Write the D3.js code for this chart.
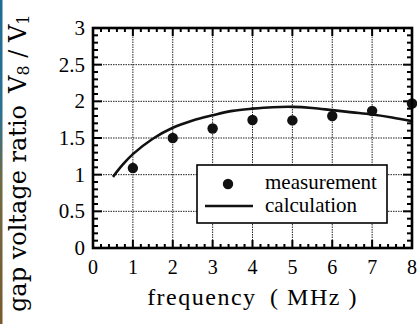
<!DOCTYPE html>
<html>
<head>
<meta charset="utf-8">
<script src="https://cdn.jsdelivr.net/npm/d3@7"></script>
<style>
  html, body { margin: 0; padding: 0; background: #fff; }
  svg { display: block; }
  .serif { font-family: "Liberation Serif", "Times New Roman", Times, Tinos, "Nimbus Roman", FreeSerif, "DejaVu Serif", serif; }
  .wide { font-family: "DejaVu Serif", "Liberation Serif", "Nimbus Roman", FreeSerif, serif; }
</style>
</head>
<body>
<div id="chart"></div>
<script>
// data
const measFreq = [1, 2, 3, 4, 5, 6, 7, 8];
const measRatio = [1.09, 1.50, 1.63, 1.745, 1.74, 1.80, 1.87, 1.97];
const calcFreq = [0.5, 0.75, 1, 1.5, 2, 2.5, 3, 3.5, 4, 4.5, 5, 5.5, 6, 6.5, 7, 7.5, 8];
const calcRatio = [0.97, 1.14, 1.28, 1.49, 1.64, 1.74, 1.81, 1.87, 1.90, 1.92, 1.925, 1.91, 1.88, 1.85, 1.82, 1.78, 1.73];
const xTicks = [0, 1, 2, 3, 4, 5, 6, 7, 8];
const yTicks = [0, 0.5, 1, 1.5, 2, 2.5, 3];

const W = 417, H = 324;

const svg = d3.select("#chart").append("svg")
    .attr("width", W)
    .attr("height", H);

// coloured strip on the left edge of the scan
const grad = svg.append("defs").append("linearGradient")
    .attr("id", "strip").attr("x1", 0).attr("y1", 0).attr("x2", 0).attr("y2", 1);
grad.append("stop").attr("offset", "0%").attr("stop-color", "#1f6c96");
grad.append("stop").attr("offset", "35%").attr("stop-color", "#2c7190");
grad.append("stop").attr("offset", "55%").attr("stop-color", "#6d6b45");
grad.append("stop").attr("offset", "100%").attr("stop-color", "#7a5a2e");
svg.append("rect").attr("x", 0).attr("y", 0).attr("width", 2.5).attr("height", H)
    .attr("fill", "url(#strip)");

const x = d3.scaleLinear().domain([0, 8]).range([93, 412]);
const y = d3.scaleLinear().domain([0, 3]).range([248, 28]);

const g = svg.append("g");

// dotted grid
g.selectAll("line.gx")
    .data(xTicks.slice(1, -1))
    .enter().append("line")
    .attr("x1", d => x(d)).attr("x2", d => x(d))
    .attr("y1", y(0)).attr("y2", y(3))
    .attr("stroke", "#222").attr("stroke-width", 1)
    .attr("stroke-dasharray", "1.5,1");
g.selectAll("line.gy")
    .data(yTicks.slice(1, -1))
    .enter().append("line")
    .attr("x1", x(0)).attr("x2", x(8))
    .attr("y1", d => y(d)).attr("y2", d => y(d))
    .attr("stroke", "#222").attr("stroke-width", 1)
    .attr("stroke-dasharray", "1.5,1");

// inward ticks on all four sides
const xMinor = d3.range(0, 8.001, 0.2);
const yMinor = d3.range(0, 3.001, 0.1);
const isMajor = (v, step) => Math.abs(v / step - Math.round(v / step)) < 1e-6;

xMinor.forEach(v => {
    const len = isMajor(v, 1) ? 8 : 4;
    g.append("line").attr("x1", x(v)).attr("x2", x(v))
        .attr("y1", y(0)).attr("y2", y(0) - len)
        .attr("stroke", "#000").attr("stroke-width", 2);
    g.append("line").attr("x1", x(v)).attr("x2", x(v))
        .attr("y1", y(3)).attr("y2", y(3) + len)
        .attr("stroke", "#000").attr("stroke-width", 2);
});
yMinor.forEach(v => {
    const len = isMajor(v, 0.5) ? 9 : 5;
    g.append("line").attr("x1", x(0)).attr("x2", x(0) + len)
        .attr("y1", y(v)).attr("y2", y(v))
        .attr("stroke", "#000").attr("stroke-width", 2);
    g.append("line").attr("x1", x(8)).attr("x2", x(8) - len)
        .attr("y1", y(v)).attr("y2", y(v))
        .attr("stroke", "#000").attr("stroke-width", 2);
});

// calculation curve
const line = d3.line()
    .x(d => x(d[0]))
    .y(d => y(d[1]))
    .curve(d3.curveCatmullRom);
g.append("path")
    .datum(d3.zip(calcFreq, calcRatio))
    .attr("d", line)
    .attr("fill", "none")
    .attr("stroke", "#111")
    .attr("stroke-width", 2.6);

// measurement points
g.selectAll("circle.m")
    .data(d3.zip(measFreq, measRatio))
    .enter().append("circle")
    .attr("cx", d => x(d[0]))
    .attr("cy", d => y(d[1]))
    .attr("r", 5.2)
    .attr("fill", "#111");

// frame
g.append("rect")
    .attr("x", x(0)).attr("y", y(3))
    .attr("width", x(8) - x(0)).attr("height", y(0) - y(3))
    .attr("fill", "none").attr("stroke", "#000").attr("stroke-width", 2.6);

// tick labels
svg.selectAll("text.xt")
    .data(xTicks)
    .enter().append("text")
    .attr("class", "serif")
    .attr("x", d => x(d)).attr("y", 274)
    .attr("text-anchor", "middle")
    .attr("font-size", 20)
    .text(d => d);
svg.selectAll("text.yt")
    .data(yTicks)
    .enter().append("text")
    .attr("class", "serif")
    .attr("x", 85).attr("y", d => y(d) + 7)
    .attr("text-anchor", "end")
    .attr("font-size", 21)
    .text(d => d);

// axis titles
svg.append("text")
    .attr("class", "serif")
    .attr("x", (x(0) + x(8)) / 2).attr("y", 305)
    .attr("text-anchor", "middle")
    .attr("font-size", 24)
    .attr("letter-spacing", 1.5)
    .text("frequency\u2002( MHz )");

const yt = svg.append("text")
    .attr("class", "wide")
    .attr("transform", "translate(26,312) rotate(-90)")
    .attr("font-size", 24);
yt.append("tspan").text("gap voltage ratio");
yt.append("tspan").attr("dx", 12).text("V");
yt.append("tspan").attr("font-size", 16).attr("dy", 3).text("8");
yt.append("tspan").attr("dy", -3).text(" / V");
yt.append("tspan").attr("font-size", 16).attr("dy", 3).text("1");

// legend
const lg = svg.append("g");
lg.append("rect")
    .attr("x", 197).attr("y", 165).attr("width", 190).attr("height", 58)
    .attr("fill", "#fff").attr("stroke", "#000").attr("stroke-width", 1.6);
lg.append("circle").attr("cx", 228).attr("cy", 184).attr("r", 5.2).attr("fill", "#111");
lg.append("line").attr("x1", 205).attr("x2", 253).attr("y1", 206).attr("y2", 206)
    .attr("stroke", "#111").attr("stroke-width", 2.6);
lg.append("text").attr("class", "serif").attr("x", 265).attr("y", 189)
    .attr("font-size", 21).text("measurement");
lg.append("text").attr("class", "serif").attr("x", 265).attr("y", 212)
    .attr("font-size", 21).text("calculation");
</script>
</body>
</html>
